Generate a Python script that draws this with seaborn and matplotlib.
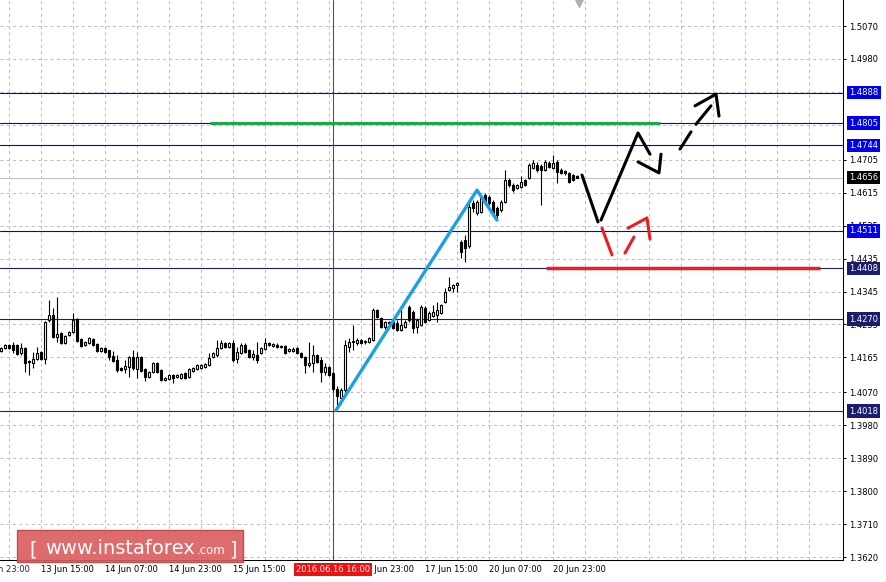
import numpy as np
import matplotlib
matplotlib.use("Agg")
import matplotlib.pyplot as plt
import matplotlib.transforms as mtrans
from matplotlib.patches import Rectangle
import seaborn as sns

# H1 candles, bar 0 = 13 Jun 15:00, first bar shown is -10
first_bar = -10
opens = [
    1.4183, 1.4191, 1.4199, 1.4199, 1.4199, 1.4177, 1.4191, 1.4155, 1.4150, 1.4161,
    1.4180, 1.4161, 1.4267, 1.4281, 1.4221, 1.4232, 1.4205, 1.4226, 1.4235, 1.4270,
    1.4216, 1.4199, 1.4205, 1.4216, 1.4202, 1.4183, 1.4191, 1.4186, 1.4169, 1.4158,
    1.4136, 1.4134, 1.4139, 1.4166, 1.4134, 1.4166, 1.4134, 1.4112, 1.4125, 1.4150,
    1.4131, 1.4104, 1.4106, 1.4117, 1.4112, 1.4109, 1.4123, 1.4112, 1.4128, 1.4134,
    1.4136, 1.4139, 1.4144, 1.4166, 1.4172, 1.4191, 1.4205, 1.4194, 1.4205, 1.4161,
    1.4177, 1.4199, 1.4186, 1.4166, 1.4172, 1.4177, 1.4188, 1.4205, 1.4197, 1.4199,
    1.4197, 1.4197, 1.4183, 1.4183, 1.4191, 1.4177, 1.4166, 1.4144, 1.4150, 1.4172,
    1.4158, 1.4125, 1.4139, 1.4123, 1.4079, 1.4054, 1.4076, 1.4194, 1.4207, 1.4205,
    1.4213, 1.4207, 1.4207, 1.4213, 1.4294, 1.4273, 1.4248, 1.4262, 1.4262, 1.4259,
    1.4240, 1.4248, 1.4303, 1.4289, 1.4248, 1.4254, 1.4300, 1.4267, 1.4278, 1.4281,
    1.4286, 1.4316, 1.4349, 1.4355, 1.4363, 1.4480, 1.4486, 1.4469, 1.4587, 1.4559,
    1.4562, 1.4609, 1.4603, 1.4589, 1.4573, 1.4568, 1.4589, 1.4649, 1.4636, 1.4628,
    1.4630, 1.4649, 1.4655, 1.4682, 1.4690, 1.4688, 1.4677, 1.4696, 1.4682, 1.4699,
    1.4677, 1.4674, 1.4669, 1.4663, 1.4660,
]
highs = [
    1.4194, 1.4202, 1.4202, 1.4207, 1.4202, 1.4205, 1.4194, 1.4158, 1.4180, 1.4194,
    1.4183, 1.4264, 1.4322, 1.4300, 1.4330, 1.4235, 1.4226, 1.4237, 1.4286, 1.4273,
    1.4218, 1.4210, 1.4221, 1.4218, 1.4205, 1.4194, 1.4194, 1.4186, 1.4183, 1.4172,
    1.4139, 1.4158, 1.4169, 1.4186, 1.4180, 1.4169, 1.4136, 1.4128, 1.4153, 1.4153,
    1.4134, 1.4112, 1.4120, 1.4120, 1.4120, 1.4123, 1.4125, 1.4136, 1.4139, 1.4147,
    1.4147, 1.4150, 1.4177, 1.4180, 1.4213, 1.4213, 1.4207, 1.4207, 1.4213, 1.4194,
    1.4205, 1.4205, 1.4188, 1.4186, 1.4207, 1.4194, 1.4218, 1.4207, 1.4205, 1.4205,
    1.4199, 1.4199, 1.4191, 1.4194, 1.4194, 1.4180, 1.4169, 1.4207, 1.4199, 1.4174,
    1.4166, 1.4150, 1.4142, 1.4125, 1.4087, 1.4082, 1.4213, 1.4218, 1.4254, 1.4218,
    1.4216, 1.4213, 1.4221, 1.4300, 1.4297, 1.4275, 1.4264, 1.4264, 1.4264, 1.4267,
    1.4294, 1.4267, 1.4308, 1.4294, 1.4273, 1.4308, 1.4305, 1.4292, 1.4308, 1.4316,
    1.4311, 1.4355, 1.4385, 1.4366, 1.4371, 1.4486, 1.4499, 1.4589, 1.4595, 1.4595,
    1.4606, 1.4614, 1.4609, 1.4595, 1.4578, 1.4595, 1.4677, 1.4655, 1.4641, 1.4639,
    1.4660, 1.4652, 1.4696, 1.4704, 1.4699, 1.4693, 1.4704, 1.4701, 1.4718, 1.4704,
    1.4682, 1.4677, 1.4671, 1.4666, 1.4663,
]
lows = [
    1.4180, 1.4188, 1.4188, 1.4177, 1.4172, 1.4172, 1.4125, 1.4117, 1.4136, 1.4158,
    1.4158, 1.4147, 1.4262, 1.4218, 1.4207, 1.4202, 1.4202, 1.4224, 1.4232, 1.4207,
    1.4194, 1.4197, 1.4202, 1.4197, 1.4180, 1.4180, 1.4177, 1.4158, 1.4153, 1.4125,
    1.4128, 1.4123, 1.4112, 1.4131, 1.4109, 1.4125, 1.4101, 1.4109, 1.4123, 1.4123,
    1.4101, 1.4101, 1.4104, 1.4096, 1.4109, 1.4106, 1.4106, 1.4109, 1.4125, 1.4131,
    1.4134, 1.4136, 1.4142, 1.4164, 1.4166, 1.4188, 1.4191, 1.4191, 1.4153, 1.4150,
    1.4174, 1.4177, 1.4164, 1.4158, 1.4150, 1.4174, 1.4186, 1.4197, 1.4194, 1.4191,
    1.4191, 1.4174, 1.4180, 1.4180, 1.4174, 1.4164, 1.4123, 1.4139, 1.4125, 1.4150,
    1.4098, 1.4117, 1.4115, 1.4074, 1.4027, 1.4038, 1.4071, 1.4180, 1.4186, 1.4199,
    1.4202, 1.4202, 1.4205, 1.4210, 1.4273, 1.4245, 1.4243, 1.4256, 1.4243, 1.4237,
    1.4237, 1.4245, 1.4262, 1.4232, 1.4232, 1.4251, 1.4259, 1.4264, 1.4275, 1.4262,
    1.4284, 1.4314, 1.4346, 1.4344, 1.4344, 1.4436, 1.4426, 1.4464, 1.4562, 1.4554,
    1.4559, 1.4587, 1.4581, 1.4554, 1.4546, 1.4562, 1.4587, 1.4630, 1.4617, 1.4625,
    1.4628, 1.4633, 1.4652, 1.4680, 1.4671, 1.4581, 1.4674, 1.4682, 1.4680, 1.4641,
    1.4666, 1.4663, 1.4641, 1.4647, 1.4655,
]
closes = [
    1.4191, 1.4199, 1.4191, 1.4186, 1.4174, 1.4191, 1.4150, 1.4153, 1.4161, 1.4177,
    1.4161, 1.4262, 1.4281, 1.4221, 1.4229, 1.4205, 1.4224, 1.4235, 1.4267, 1.4210,
    1.4197, 1.4207, 1.4218, 1.4199, 1.4183, 1.4191, 1.4180, 1.4166, 1.4155, 1.4131,
    1.4131, 1.4142, 1.4166, 1.4136, 1.4166, 1.4128, 1.4112, 1.4125, 1.4150, 1.4125,
    1.4104, 1.4109, 1.4117, 1.4109, 1.4117, 1.4120, 1.4109, 1.4134, 1.4136, 1.4144,
    1.4144, 1.4147, 1.4164, 1.4177, 1.4191, 1.4205, 1.4194, 1.4205, 1.4158, 1.4180,
    1.4199, 1.4180, 1.4166, 1.4174, 1.4158, 1.4191, 1.4205, 1.4199, 1.4202, 1.4194,
    1.4194, 1.4177, 1.4188, 1.4188, 1.4177, 1.4166, 1.4144, 1.4150, 1.4172, 1.4153,
    1.4125, 1.4139, 1.4117, 1.4079, 1.4060, 1.4076, 1.4199, 1.4207, 1.4210, 1.4213,
    1.4205, 1.4210, 1.4218, 1.4294, 1.4275, 1.4248, 1.4262, 1.4259, 1.4245, 1.4240,
    1.4254, 1.4262, 1.4267, 1.4245, 1.4267, 1.4303, 1.4262, 1.4286, 1.4289, 1.4294,
    1.4308, 1.4344, 1.4357, 1.4363, 1.4368, 1.4453, 1.4464, 1.4576, 1.4573, 1.4589,
    1.4600, 1.4589, 1.4587, 1.4559, 1.4554, 1.4589, 1.4649, 1.4636, 1.4622, 1.4636,
    1.4644, 1.4636, 1.4690, 1.4696, 1.4677, 1.4677, 1.4699, 1.4685, 1.4696, 1.4671,
    1.4669, 1.4669, 1.4644, 1.4649, 1.4656,
]

# horizontal levels
levels_blue = [1.4888, 1.4805, 1.4744, 1.4511]
levels_navy = [1.4408, 1.4270, 1.4018]
last_price = 1.4656
green_level = (1.4805, 42.25, 154.75)
red_level = (1.4408, 126.25, 194.75)
cursor_bar = 73
cursor_label = "2016.06.16 16:00"

# hand-drawn wave marks (bar index, price)
blue_wave_x = [73.75, 109, 114]
blue_wave_y = [1.4021, 1.4622, 1.4540]
black_strokes = [
    ([135.25, 139.25], [1.4663, 1.4535]),
    ([140.0, 149.25, 152.25], [1.4540, 1.4778, 1.4720]),
    ([149.25, 154.5, 155.0], [1.4699, 1.4669, 1.4720]),
    ([159.75, 162.5], [1.4734, 1.4781]),
    ([163.75, 167.5], [1.4802, 1.4852]),
    ([163.5, 168.75, 169.5], [1.4852, 1.4884, 1.4824]),
]
red_strokes = [
    ([140.25, 142.75], [1.4518, 1.4445]),
    ([146.0, 148.25], [1.4450, 1.4494]),
    ([146.75, 151.5, 152.25], [1.4518, 1.4546, 1.4488]),
]

# axis labels
ytick_vals = [1.5070, 1.4980, 1.4705, 1.4615, 1.4525, 1.4435, 1.4345, 1.4255,
              1.4165, 1.4070, 1.3980, 1.3890, 1.3800, 1.3710, 1.3620]
ygrid_extra = [1.4890, 1.4800]
xtick_bars = [0, 16, 32, 48, 64, 80, 96, 112, 128]
xtick_labels = ['13 Jun 15:00', '14 Jun 07:00', '14 Jun 23:00', '15 Jun 15:00',
                '16 Jun 07:00', '16 Jun 23:00', '17 Jun 15:00', '20 Jun 07:00',
                '20 Jun 23:00']
first_label = (-16, '12 Jun 23:00')

sns.set_style("white")
plt.rcParams['font.family'] = ['DejaVu Sans']

fig = plt.figure(figsize=(8.86, 5.82), dpi=100)
ax = fig.add_axes([0, 22 / 582, 843 / 886, 560 / 582])
ax.set_xlim(-10.25, 200.5)
ax.set_ylim(1.3612, 1.5141)

# grid
ax.set_yticks(ytick_vals)
ax.set_yticks(ygrid_extra, minor=True)
ax.set_xticks(xtick_bars)
ax.set_xticks(np.arange(-8, 200, 8), minor=True)
ax.set_xticklabels(xtick_labels, ha='left')
ax.set_yticklabels([f'{v:.4f}' for v in ytick_vals])
ax.yaxis.tick_right()
ax.grid(True, which='both', color='#c0c0c0', linestyle=(0, (3, 3)), linewidth=0.75, zorder=0)
ax.set_axisbelow(True)
ax.tick_params(axis='y', which='major', length=2, width=0.75, pad=2.2, labelsize=6, colors='black')
ax.tick_params(axis='y', which='minor', length=0)
ax.tick_params(axis='x', which='major', length=3, width=0.75, pad=0.8, labelsize=6, colors='black')
ax.tick_params(axis='x', which='minor', length=0)
for s in ['left', 'top']:
    ax.spines[s].set_visible(False)
for s in ['right', 'bottom']:
    ax.spines[s].set_color('black')
    ax.spines[s].set_linewidth(0.75)

# level lines
for v in levels_blue:
    ax.axhline(v, color='#0000ee', lw=0.8, zorder=1)
for v in levels_navy:
    ax.axhline(v, color='#1c1c78', lw=0.8, zorder=1)
ax.axhline(last_price, color='#c0c0c0', lw=0.75, zorder=1)
ax.axvline(cursor_bar, color='#dd1111', lw=0.75, zorder=1)

# candles
bars = np.arange(first_bar, first_bar + len(opens))
o, h, l, c = (np.array(a) for a in (opens, highs, lows, closes))
up = c >= o
body_low = np.minimum(o, c)
body_h = np.maximum(np.abs(c - o), 0.00003)
ax.vlines(bars, l, h, color='black', lw=0.8, zorder=3)
ax.bar(bars[up], body_h[up], bottom=body_low[up], width=0.7, color='white',
       edgecolor='black', linewidth=0.8, zorder=4)
ax.bar(bars[~up], body_h[~up], bottom=body_low[~up], width=0.7, color='black',
       edgecolor='black', linewidth=0.8, zorder=4)

# green / red key levels
ax.hlines(green_level[0], green_level[1], green_level[2], color='#1fa84a', lw=2.3, zorder=5)
ax.hlines(red_level[0], red_level[1], red_level[2], color='#ee1c24', lw=2.5, zorder=5)

# wave drawings
sns.lineplot(x=blue_wave_x, y=blue_wave_y, sort=False, estimator=None, color='#1ba1e2',
             lw=2.4, ax=ax, zorder=6)
for xs, ys in black_strokes:
    sns.lineplot(x=xs, y=ys, sort=False, estimator=None, color='black', lw=2.2, ax=ax, zorder=6)
for xs, ys in red_strokes:
    sns.lineplot(x=xs, y=ys, sort=False, estimator=None, color='#ee1c24', lw=2.2, ax=ax, zorder=6)

# shift marker at top
ax.plot([134.5], [1.5134], marker='v', color='#b0b0b0', markersize=5.5, clip_on=False, zorder=7)

# price boxes on the right
ytrans = mtrans.blended_transform_factory(ax.transAxes, ax.transData)
box_kw = dict(boxstyle='square,pad=0.28', ec='none')
for v in levels_blue:
    ax.text(1.0 + 6 / 843, v, f'{v:.4f}', transform=ytrans, ha='left', va='center',
            color='white', fontsize=6, bbox=dict(fc='#0000ee', **box_kw), zorder=10, clip_on=False)
for v in levels_navy:
    ax.text(1.0 + 6 / 843, v, f'{v:.4f}', transform=ytrans, ha='left', va='center',
            color='white', fontsize=6, bbox=dict(fc='#1c1c6c', **box_kw), zorder=10, clip_on=False)
ax.text(1.0 + 6 / 843, last_price, f'{last_price:.4f}', transform=ytrans, ha='left', va='center',
        color='white', fontsize=6, bbox=dict(fc='black', **box_kw), zorder=10, clip_on=False)

# bottom labels
xtrans = mtrans.blended_transform_factory(ax.transData, ax.transAxes)
ax.text(first_label[0], -9.5 / 560, first_label[1], transform=xtrans, ha='left', va='center',
        fontsize=6, clip_on=False)
ax.text(cursor_bar, -9.5 / 560, cursor_label, transform=xtrans, ha='center', va='center',
        fontsize=6, color='white', bbox=dict(boxstyle='square,pad=0.25', fc='#ee1111', ec='none'),
        zorder=10, clip_on=False)

# watermark
fig.add_artist(Rectangle((17 / 886, 20 / 582), 226 / 886, 32 / 582, transform=fig.transFigure,
                         facecolor='#dc5c5c', edgecolor='#b84444', lw=1, alpha=0.9, zorder=20))
fig.text(29 / 886, 27 / 582, '[', color='white', fontsize=14, va='baseline', zorder=21)
fig.text(45 / 886, 28 / 582, 'www.instaforex', color='white', fontsize=14, va='baseline', zorder=21)
fig.text(197 / 886, 28 / 582, '.com', color='white', fontsize=8.5, va='baseline', zorder=21)
fig.text(229 / 886, 27 / 582, ']', color='white', fontsize=14, va='baseline', zorder=21)

fig.savefig('out.png', dpi=100, facecolor='white')
